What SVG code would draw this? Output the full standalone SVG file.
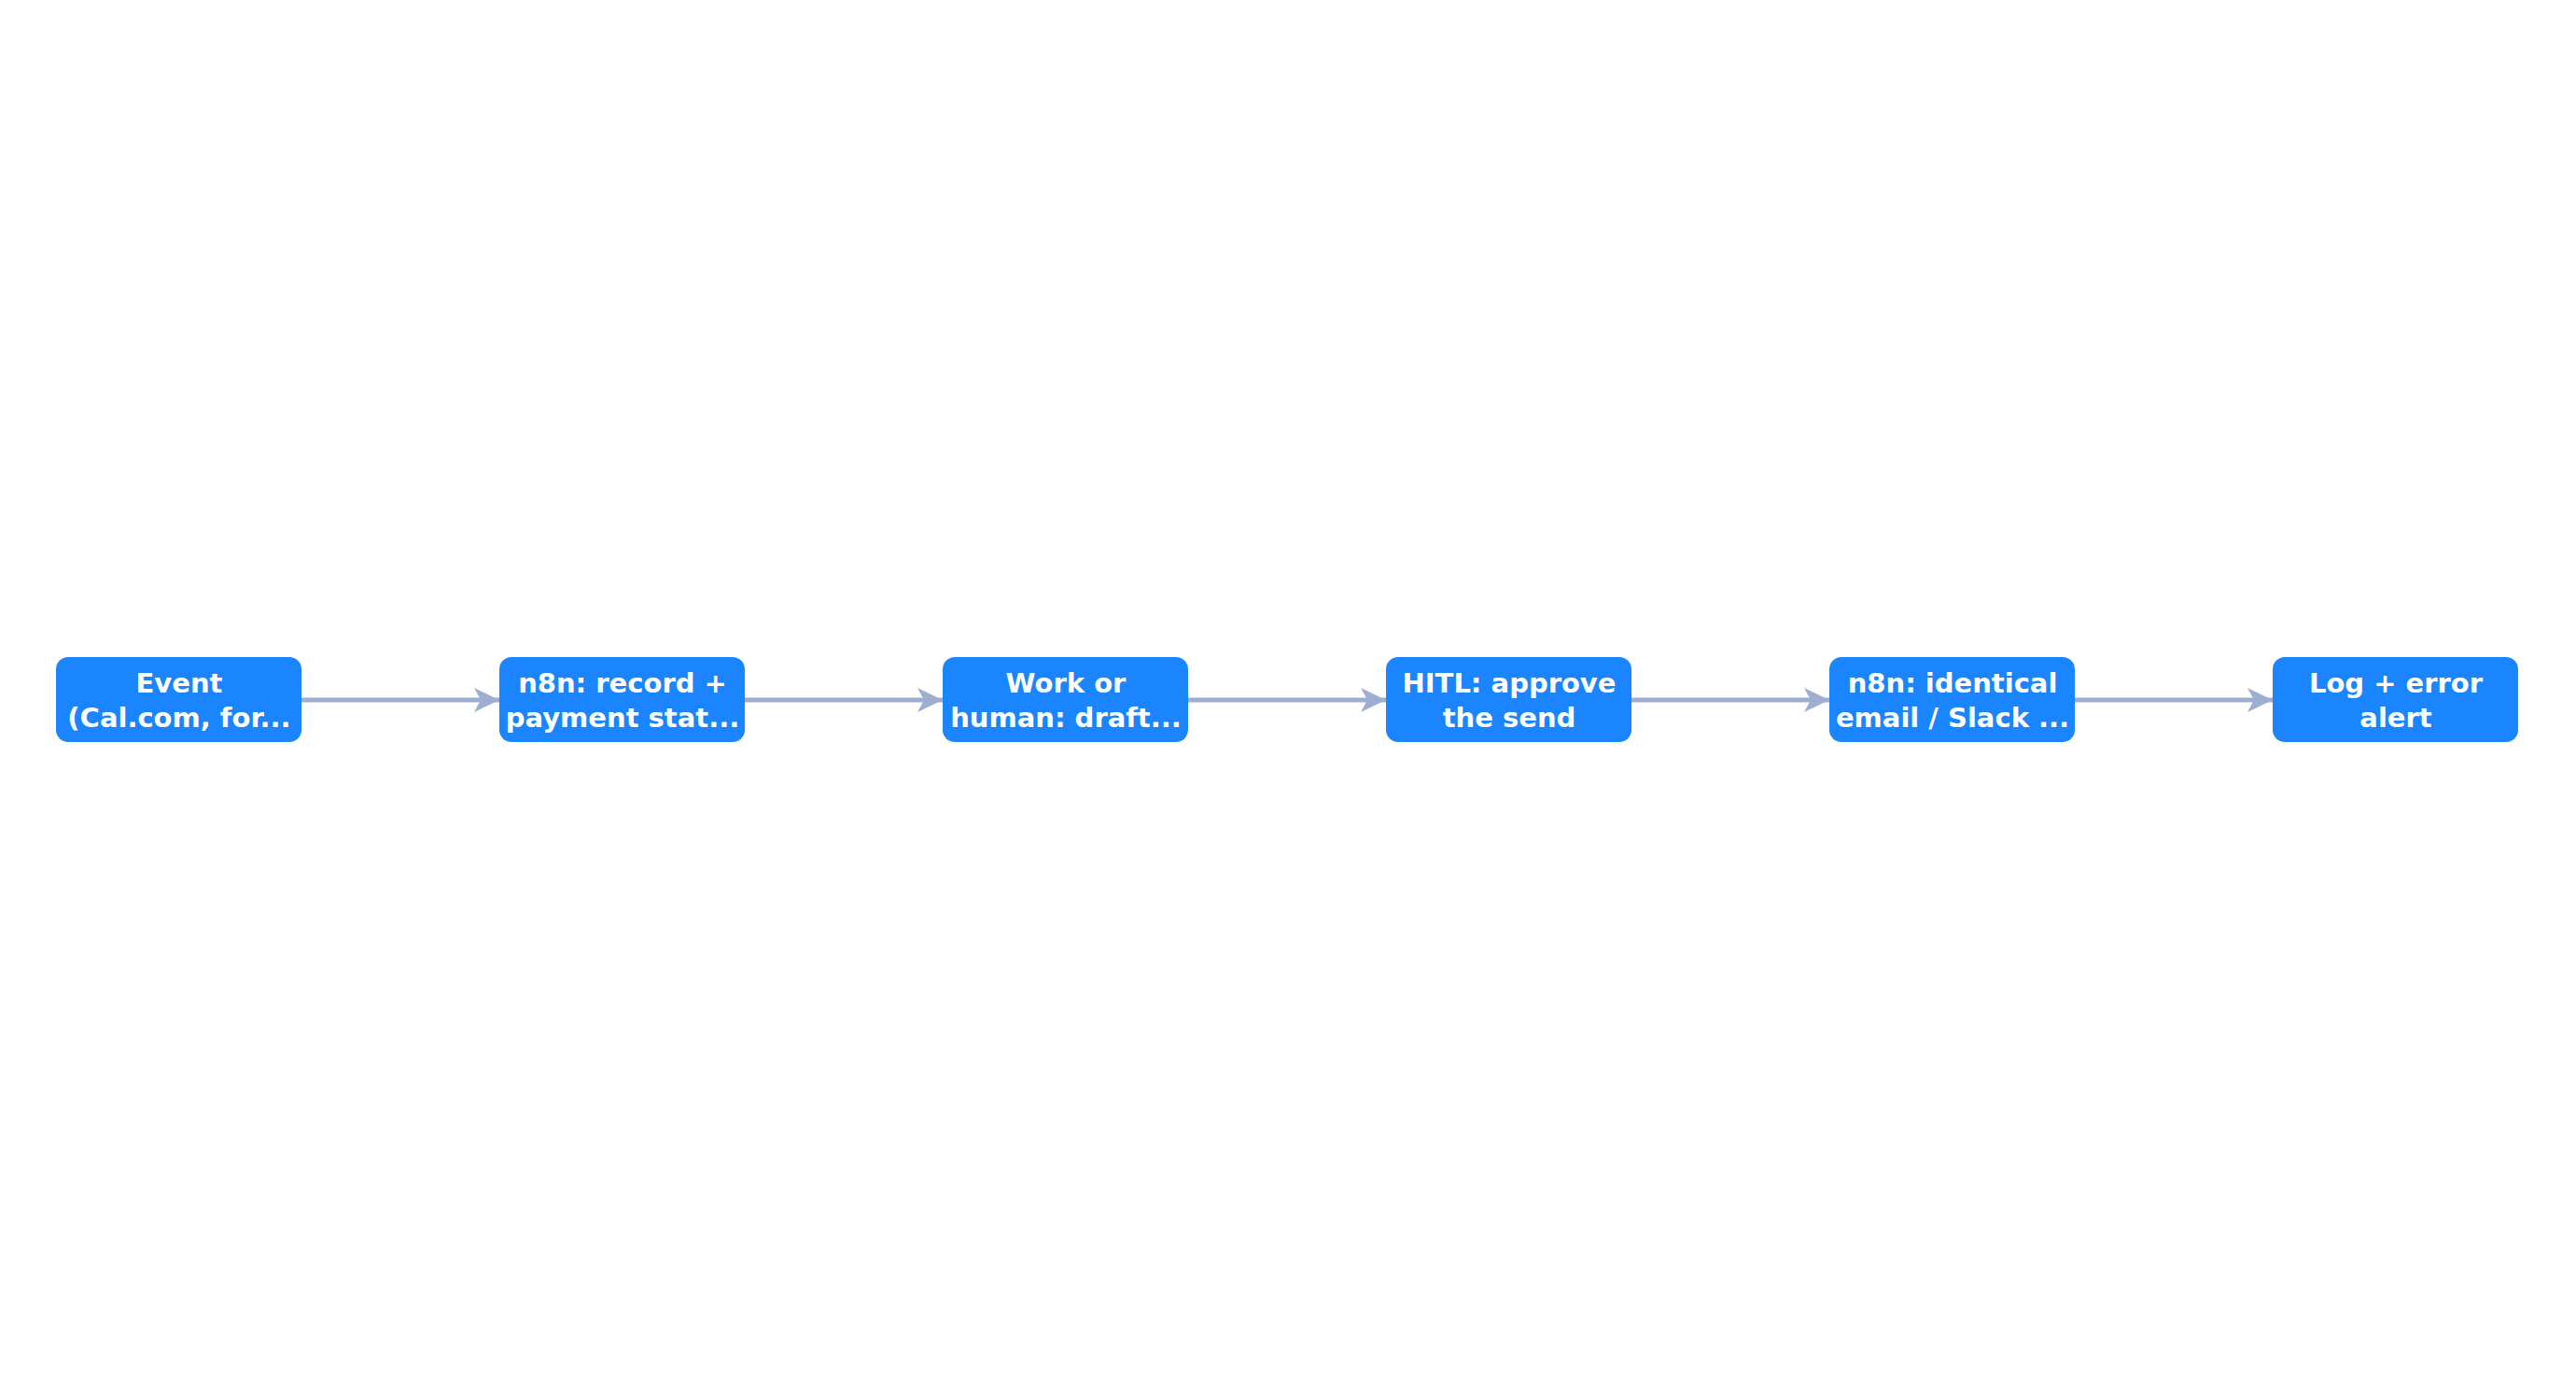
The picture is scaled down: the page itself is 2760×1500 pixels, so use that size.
<svg xmlns="http://www.w3.org/2000/svg" width="2760" height="1500" viewBox="0 0 2760 1500">
<style>
.n rect{fill:#1a85ff;}
.n text{font-family:"DejaVu Sans",sans-serif;font-weight:bold;font-size:29px;fill:#ffffff;text-anchor:middle;}
.e{stroke:#9daed1;stroke-width:5;fill:none;marker-end:url(#ah);}
</style>
<defs>
<marker id="ah" markerUnits="userSpaceOnUse" markerWidth="30" markerHeight="28" refX="27" refY="13" orient="auto">
<path d="M0,0 L27,13 L0,26 L7,13 Z" fill="#9daed1"/>
</marker>
</defs>
<rect width="2760" height="1500" fill="#ffffff"/>
<g id="connectors">
<line class="e" x1="323" y1="750" x2="535" y2="750"/>
<line class="e" x1="798" y1="750" x2="1010" y2="750"/>
<line class="e" x1="1273" y1="750" x2="1485" y2="750"/>
<line class="e" x1="1748" y1="750" x2="1960" y2="750"/>
<line class="e" x1="2223" y1="750" x2="2435" y2="750"/>
</g>
<g id="n1" class="n"><rect x="60" y="704" width="263" height="91" rx="13"/><text x="192" y="742">Event</text><text x="192" y="779">(Cal.com, for...</text></g>
<g id="n2" class="n"><rect x="535" y="704" width="263" height="91" rx="13"/><text x="667" y="742">n8n: record +</text><text x="667" y="779">payment stat...</text></g>
<g id="n3" class="n"><rect x="1010" y="704" width="263" height="91" rx="13"/><text x="1142" y="742">Work or</text><text x="1142" y="779">human: draft...</text></g>
<g id="n4" class="n"><rect x="1485" y="704" width="263" height="91" rx="13"/><text x="1617" y="742">HITL: approve</text><text x="1617" y="779">the send</text></g>
<g id="n5" class="n"><rect x="1960" y="704" width="263" height="91" rx="13"/><text x="2092" y="742">n8n: identical</text><text x="2092" y="779">email / Slack ...</text></g>
<g id="n6" class="n"><rect x="2435" y="704" width="263" height="91" rx="13"/><text x="2567" y="742">Log + error</text><text x="2567" y="779">alert</text></g>
</svg>
